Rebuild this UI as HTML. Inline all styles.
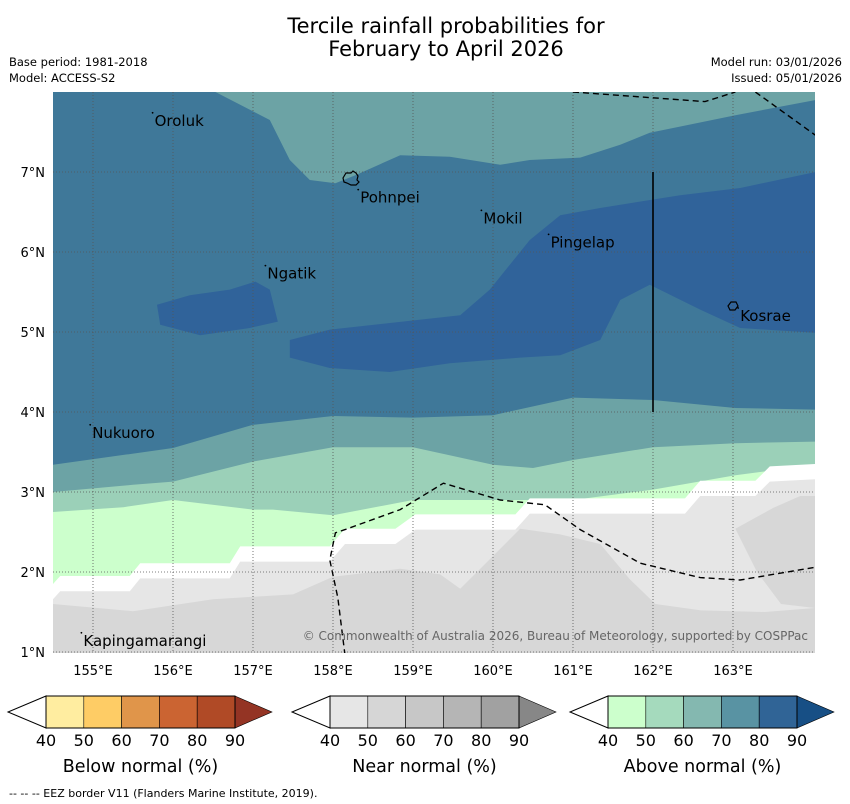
<!DOCTYPE html>
<html><head><meta charset="utf-8">
<style>
body{margin:0;background:#fff;width:850px;height:804px;overflow:hidden;font-family:"DejaVu Sans","Liberation Sans",sans-serif;}
svg{display:block}
text{font-family:"DejaVu Sans","Liberation Sans",sans-serif;}
</style></head><body>
<svg id="chart" width="850" height="804">
<text x="446" y="33" font-size="21" text-anchor="middle">Tercile rainfall probabilities for</text>
<text x="446" y="56" font-size="21" text-anchor="middle">February to April 2026</text>
<text x="9" y="66" font-size="11.5">Base period: 1981-2018</text>
<text x="9" y="82" font-size="11.5">Model: ACCESS-S2</text>
<text x="842" y="66" font-size="11.5" text-anchor="end">Model run: 03/01/2026</text>
<text x="842" y="82" font-size="11.5" text-anchor="end">Issued: 05/01/2026</text>
<defs><clipPath id="mapclip"><rect x="53" y="92" width="762" height="561"/></clipPath></defs>
<g id="map" clip-path="url(#mapclip)"></g>
<g id="axes"></g>
<text x="808" y="640" font-size="12" fill="#666" text-anchor="end">© Commonwealth of Australia 2026, Bureau of Meteorology, supported by COSPPac</text>
<g id="cbars"></g>
<text x="9" y="797" font-size="11">--  --  -- EEZ border V11 (Flanders Marine Institute, 2019).</text>
</svg>
<script>
// ---- data (lon, lat) ----
const lonTicks=[155,156,157,158,159,160,161,162,163];
const latTicks=[1,2,3,4,5,6,7];
const b70to60=[[154.5,3.34],[156,3.55],[157,3.84],[158,3.95],[159,3.93],[160,3.96],[161,4.18],[162,4.15],[163.03,4.05],[164.03,4.03]];
const b60to50=[[154.5,3.0],[155.5,3.09],[156,3.13],[157,3.38],[158,3.56],[159,3.56],[160,3.34],[160.5,3.3],[161,3.4],[162,3.56],[163.03,3.61],[164.03,3.63]];
const b50to40=[[154.5,2.75],[155.38,2.81],[156,2.9],[157,2.78],[157.25,2.78],[158,2.71],[159,2.9],[160,2.9],[161,2.9],[162,3.03],[163.03,3.21],[164.03,3.34]];
const bWhite=[[154.5,1.85],[154.59,1.95],[155.46,1.95],[155.59,2.11],[156.71,2.11],[156.84,2.32],[157.96,2.32],[158.15,2.54],[158.78,2.54],[159.03,2.72],[160.28,2.72],[160.46,2.92],[162.4,2.92],[162.59,3.14],[163.28,3.14],[163.46,3.32],[164.03,3.35]];
const whiteWidth=0.19;
const bNear50=[[154.5,1.6],[155.5,1.51],[156.5,1.66],[157.5,1.72],[158,1.94],[158.84,2.04],[159.34,1.97],[159.59,1.79],[159.96,2.16],[160.34,2.54],[160.84,2.47],[161.34,2.35],[161.71,1.91],[162.03,1.6],[162.6,1.52],[163.4,1.5],[164.03,1.55]];
const near50Patch=[[163.03,2.54],[163.5,2.8],[163.84,2.95],[164.03,2.95],[164.03,1.55],[163.6,1.6],[163.3,2.0]];
const above60Top=[[156.53,8],[157.21,7.65],[157.46,7.15],[157.71,6.9],[158.03,6.86],[158.28,6.96],[158.84,7.21],[159.46,7.19],[160.09,7.09],[160.46,7.15],[161.09,7.18],[161.59,7.34],[161.96,7.49],[163.03,7.71],[164.03,7.9],[164.03,8]];
const above80Big=[[157.46,4.9],[157.96,5.03],[159.59,5.21],[159.96,5.53],[160.46,6.15],[160.84,6.46],[161.34,6.55],[162.34,6.71],[163.09,6.8],[164.03,7.0],[164.03,4.99],[163.09,5.05],[162.59,5.28],[161.96,5.59],[161.59,5.4],[161.34,4.9],[160.84,4.71],[160.34,4.68],[159.46,4.61],[158.71,4.5],[157.96,4.55],[157.46,4.68]];
const above80Small=[[155.8,5.34],[156.21,5.46],[156.71,5.53],[157.03,5.63],[157.21,5.53],[157.31,5.13],[156.96,5.05],[156.34,4.96],[155.84,5.09]];
const eezBottom=[[158.15,0.96],[158.06,1.68],[157.96,2.15],[158.03,2.49],[158.15,2.53],[158.84,2.78],[159.38,3.11],[160.09,2.9],[160.65,2.84],[161.09,2.53],[161.84,2.11],[162.59,1.93],[163.09,1.9],[164.03,2.06]];
const eezTop1=[[161.0,8],[162.65,7.88],[163.03,8]];
const eezTop2=[[163.28,8],[164.03,7.46]];
const placeNames=["Oroluk","Pohnpei","Mokil","Pingelap","Ngatik","Kosrae","Nukuoro","Kapingamarangi"];
const placeLon=[155.77,158.34,159.88,160.72,157.18,163.09,154.99,154.88];
const placeLat=[7.64,6.68,6.42,6.12,5.73,5.2,3.74,1.14];
const barLon=162.0, barLat0=4.0, barLat1=7.0;
// ---- scales ----
const x=l=>53+(l-154.5)*80, y=l=>92+(8-l)*80;
const NS="http://www.w3.org/2000/svg";
const map=document.getElementById('map'), axes=document.getElementById('axes'), cb=document.getElementById('cbars');
function mk(tag,parent,attrs){const e=document.createElementNS(NS,tag);for(const k in attrs)e.setAttribute(k,attrs[k]);parent.appendChild(e);return e;}
const pts=a=>a.map(p=>x(p[0]).toFixed(1)+','+y(p[1]).toFixed(1)).join(' ');
function below(line,fill,name){
  const p=pts(line)+' '+x(164.2)+','+y(0.5)+' '+x(154.3)+','+y(0.5);
  const e=mk('polygon',map,{points:p,fill:fill});
  
  
}
const bg=mk('rect',map,{x:53,y:92,width:762,height:561,fill:'#3f7899'});


let e=mk('polygon',map,{points:pts(above60Top),fill:'#6ca3a5'});


e=mk('polygon',map,{points:pts(above80Big),fill:'#30639a'});


e=mk('polygon',map,{points:pts(above80Small),fill:'#30639a'});


below(b70to60,'#6ca3a5','above-60-70-region');
below(b60to50,'#9bd0b8','above-50-60-region');
below(b50to40,'#ccffcc','above-40-50-region');
below(bWhite,'#ffffff','no-dominant-region');
below(bWhite.map(p=>[p[0],p[1]-whiteWidth]),'#e6e6e6','near-40-50-region');
below(bNear50,'#d7d7d7','near-50-60-region');
e=mk('polygon',map,{points:pts(near50Patch),fill:'#d7d7d7'});


// grid
lonTicks.forEach(l=>{const g=mk('line',map,{x1:x(l),x2:x(l),y1:92,y2:653,stroke:'#555','stroke-width':0.8,'stroke-dasharray':'1,2'});

});
latTicks.forEach(l=>{const g=mk('line',map,{x1:53,x2:815,y1:y(l),y2:y(l),stroke:'#555','stroke-width':0.8,'stroke-dasharray':'1,2'});

});
// EEZ
[eezBottom,eezTop1,eezTop2].forEach((a,i)=>{const g=mk('polyline',map,{points:pts(a),fill:'none',stroke:'#000','stroke-width':1.4,'stroke-dasharray':'6,4'});

});
// bar line
e=mk('line',map,{x1:x(barLon),x2:x(barLon),y1:y(barLat0),y2:y(barLat1),stroke:'#000','stroke-width':1.6});


// islands
e=mk('path',map,{d:'M343,178 l3,-5 l5,0 l2,-2 l3,2 l2,3 l-1,4 l2,2 l-3,3 l-5,0 l-4,-2 l-3,-1z',fill:'none',stroke:'#000','stroke-width':1.2});


e=mk('path',map,{d:'M728,306 l3,-4 l5,0 l2,4 l-3,4 l-5,0z',fill:'none',stroke:'#000','stroke-width':1.2});


// places
placeNames.forEach((n,i)=>{
  const d=mk('circle',map,{cx:x(placeLon[i])-2,cy:y(placeLat[i])-8,r:0.9,fill:'#000'});
  
  
  const t=mk('text',map,{x:x(placeLon[i]),y:y(placeLat[i])+5,'font-size':15});
  t.textContent=n;
  
  
});
// tick labels
lonTicks.forEach(l=>{const t=mk('text',axes,{x:x(l),y:675,'font-size':13,'text-anchor':'middle'});t.textContent=l+'°E';

});
latTicks.forEach(l=>{const t=mk('text',axes,{x:45,y:y(l)+5,'font-size':13,'text-anchor':'end'});t.textContent=l+'°N';

});
// colorbars
const cbLabels=['Below normal (%)','Near normal (%)','Above normal (%)'];
const cbColors=[['#ffeda0','#fecc65','#e0954a','#cb6432','#b04a26','#943424'],['#e6e6e6','#d6d6d6','#c7c7c7','#b5b5b5','#a1a1a1','#878787'],['#ccffcc','#a5dabd','#84b8b0','#5993a3','#306496','#174f85']];
const cbTicks=[40,50,60,70,80,90];
const cbX=[46,330,608];
cbX.forEach((x0,i)=>{
  const g=mk('g',cb,{});
  
  
  const w=37.8,t0=696,h=32;
  mk('polygon',g,{points:`${x0},${t0} ${x0-38},${t0+h/2} ${x0},${t0+h}`,fill:'#fff',stroke:'#000','stroke-width':1});
  for(let k=0;k<5;k++)mk('rect',g,{x:x0+k*w,y:t0,width:w,height:h,fill:cbColors[i][k],stroke:'#000','stroke-width':0.6});
  const xe=x0+5*w;
  mk('polygon',g,{points:`${xe},${t0} ${xe+37},${t0+h/2} ${xe},${t0+h}`,fill:cbColors[i][5],stroke:'#000','stroke-width':0.6});
  mk('rect',g,{x:x0,y:t0,width:5*w,height:h,fill:'none',stroke:'#000','stroke-width':1});
  cbTicks.forEach((v,k)=>{const t=mk('text',g,{x:x0+k*w,y:746,'font-size':16,'text-anchor':'middle'});t.textContent=v;});
  const lab=mk('text',g,{x:x0+2.5*w,y:772,'font-size':17.5,'text-anchor':'middle'});lab.textContent=cbLabels[i];
});
</script>
</body></html>
